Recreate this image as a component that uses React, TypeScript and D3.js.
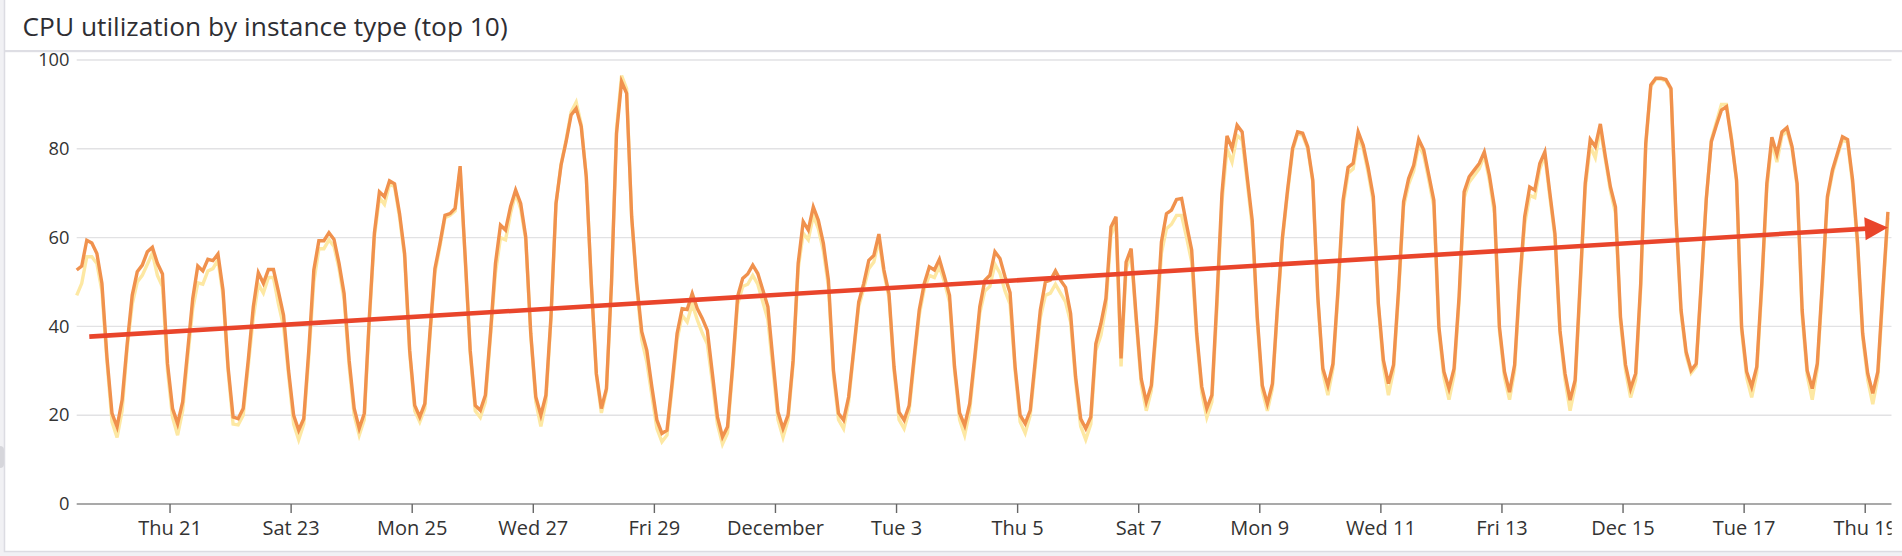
import React, { useEffect, useRef } from "react";
import * as d3 from "d3";

// series sampled every 2 hours, starting Tue Nov 19 2019 11:00
const startTime = new Date(2019, 10, 19, 11, 0);
const endTime = new Date(2019, 11, 19, 10, 30);
const stepHours = 2;

// top instance type (orange line)
const cpuTop = [
  52.7, 53.6, 59.4, 58.8, 56.4, 49.7, 33, 20.4, 17.4, 23.4, 36, 47,
  52.3, 53.8, 56.8, 57.8, 54.2, 51.8, 31.6, 21.5, 18.1, 23, 34.6, 46.3,
  53.6, 52.5, 55.1, 54.8, 56.3, 48.2, 30.9, 19.6, 19.2, 21.5, 32.4, 44.4,
  52.1, 49.7, 52.8, 52.8, 47.8, 42.5, 30, 20, 16.6, 19.2, 34.6, 52.7,
  59.3, 59.3, 61.1, 59.6, 54.2, 47.4, 32.4, 21.5, 17, 20.4, 42, 61,
  70.3, 69.2, 72.8, 72.1, 65.4, 56.4, 34.6, 22.2, 19.6, 22.6, 38.4, 53,
  58.7, 65, 65.4, 66.6, 76.1, 55.7, 34.6, 22.2, 21.1, 24.5, 38.4, 54.2,
  62.8, 61.7, 67, 70.7, 67.7, 60.2, 38.4, 24.1, 20, 24.5, 42.1, 67.7,
  76.3, 81.6, 87.6, 89.1, 85, 73.7, 49.7, 29.4, 21.5, 26, 49.7, 83.5,
  95.1, 92.5, 64.7, 49.7, 38.8, 34.6, 26.4, 18.9, 15.9, 16.6, 27.1, 38.4,
  44, 43.8, 47.4, 44, 41.8, 39.1, 29.4, 19.6, 15.1, 17.4, 30.9, 46.7,
  50.8, 51.8, 53.8, 51.9, 48.2, 44.4, 32.4, 20.7, 17, 20, 32.4, 54.2,
  63.6, 61.7, 66.9, 63.9, 58.7, 50.4, 30.1, 20.4, 18.9, 24.1, 34.6, 45.5,
  49.7, 54.9, 56, 60.8, 52.7, 47.4, 30.9, 20.7, 18.9, 22.2, 33.1, 43.7,
  49.7, 53.4, 52.7, 55.1, 51.2, 47, 30.9, 20.5, 17.7, 22.6, 33.1, 44.4,
  50.4, 51.5, 56.8, 55.3, 51.2, 47.6, 30.9, 20, 18.1, 21.1, 32.4, 43.7,
  50, 50.4, 52.5, 50.4, 48.8, 42.9, 28.6, 19.2, 17, 19.6, 36.1, 40.6,
  46.3, 62.4, 64.7, 32.8, 54.5, 57.5, 42.1, 28.2, 23, 26.7, 40.6, 59,
  65.4, 66.2, 68.6, 68.8, 62.8, 57.2, 38.4, 26.4, 21.5, 24.5, 45.9, 69.9,
  82.9, 80.1, 85.3, 83.8, 73.7, 63.9, 42.1, 26.7, 22.6, 27.1, 44.4, 60.2,
  70.7, 80.1, 83.8, 83.5, 80.5, 73, 46.7, 30.5, 26.7, 31.6, 48.2, 68.4,
  75.8, 76.7, 83.8, 80.8, 75.6, 69.2, 45.2, 32.4, 27.1, 31.3, 48.2, 68.1,
  73.3, 76.3, 82.1, 79.7, 74.1, 68.4, 39.9, 29.8, 26, 30.5, 46.7, 70.3,
  73.7, 75.2, 76.7, 79.3, 74.1, 66.9, 39.9, 29.8, 25.2, 31.3, 49.7, 64.7,
  71.4, 70.7, 76.7, 79.3, 70, 60.9, 39.1, 29.4, 23.4, 27.9, 49.7, 72.2,
  82.1, 80.5, 85.6, 78.2, 71.4, 66.9, 42.1, 31.3, 26, 29.4, 49.7, 81.2,
  94.4, 95.9, 95.9, 95.6, 93.6, 64.7, 43.7, 34.3, 30.1, 31.6, 49.7, 68.8,
  81.6, 85.3, 88.7, 89.5, 82, 73, 39.9, 29.8, 26.4, 30.9, 49.7, 72.2,
  82.6, 78.8, 83.8, 84.8, 80.5, 72.2, 43.7, 30.1, 26, 31.6, 49.7, 69.2,
  75.2, 79, 82.7, 82.1, 73, 58.7, 38.4, 29.4, 24.9, 29.8, 48.2, 65.8,
];

// second instance type (pale yellow line, mostly hidden behind the first)
const cpuSecond = [
  47, 49.7, 55.7, 55.7, 54.2, 48, 32, 18.5, 15, 21, 35, 45,
  50, 51.5, 54, 56.5, 51.5, 49, 30, 19.5, 15.5, 21, 33, 44,
  49.8, 49.5, 52.5, 53, 55, 47, 30, 18, 17.8, 20, 31, 42,
  49.5, 47.5, 51, 51, 45, 40, 29, 18, 14.5, 18, 33, 50,
  57.5, 57.5, 59.5, 58, 53, 46, 31, 20, 15.5, 19, 41, 60,
  69, 67.5, 72, 71.5, 64.5, 55.5, 34, 21, 18.5, 21.5, 37.5, 52,
  58, 64.5, 65, 66, 75.5, 55, 34, 21, 19.5, 23, 37.5, 52,
  60, 59.5, 65.5, 70, 66.5, 59.5, 38, 23, 17.5, 23, 41.5, 67.5,
  76.5, 82, 88.3, 90.5, 85.5, 74, 49.5, 29, 20.5, 25.5, 49.5, 84.5,
  96.5, 93.5, 64.5, 49, 37, 32, 24.5, 17, 14, 15.5, 26, 37,
  42.5, 41, 45, 41.5, 38.5, 36, 27.5, 18, 13.5, 16, 30, 45,
  49, 49.5, 51.5, 49.5, 45.5, 41.5, 30.5, 19, 15, 19, 31.5, 53,
  61, 59.5, 65, 62, 57, 49, 29, 19, 17, 23, 34, 44.5,
  48.5, 53, 54.5, 59.5, 52, 46.5, 30, 19, 17, 21, 32, 42.5,
  48.5, 51.5, 51, 53.5, 50, 45.5, 30, 19, 15.5, 21, 32, 43,
  48, 49, 54, 52, 48, 45, 30, 18.5, 16, 20, 31, 42,
  47, 47.5, 49.5, 47.5, 45.5, 41, 27.5, 17.5, 14.5, 18, 34.5, 38,
  44.5, 60.5, 63.5, 31, 53, 56.5, 41, 27, 21, 25.5, 39, 56.5,
  62, 63, 65, 65, 60, 54.5, 37.5, 25, 19.5, 23, 44, 68,
  80, 77, 83, 82, 72.5, 62.5, 41, 25.5, 21, 26, 43.5, 59.5,
  70, 79.5, 83.5, 83, 80, 72.5, 46, 29.5, 24.5, 30.5, 47, 67,
  74.5, 75.5, 82.5, 80, 74.5, 68, 44.5, 31, 24.5, 30, 47, 67,
  72, 75, 81, 78.5, 73, 67, 39, 28.5, 23.5, 29, 45.5, 69,
  72.5, 74, 75.5, 78.5, 73, 65.5, 39, 28.5, 23.5, 30, 48.5, 63,
  69.5, 69, 75.5, 78.5, 69, 60, 38.5, 28, 21, 26.5, 48.5, 71,
  80.5, 78, 84.5, 77.5, 70.5, 65.5, 41, 30, 24, 28, 48.5, 80.5,
  94, 95.7, 95.7, 95.3, 93.3, 64, 43, 33.5, 29.5, 31, 49, 68.5,
  82, 86, 90, 90, 82.5, 72.5, 39, 28.5, 24, 29.5, 48.5, 71,
  81.5, 77, 83, 84, 80, 71.5, 42.5, 29, 23.5, 30.5, 48.5, 68.5,
  74.5, 78.5, 82, 81.5, 72, 57.5, 37.5, 28, 22.5, 28.5, 47, 64.5,
];

const yTicks = [0, 20, 40, 60, 80, 100];
const tickDays = [
  "2019-11-21", "2019-11-23", "2019-11-25", "2019-11-27", "2019-11-29",
  "2019-12-01", "2019-12-03", "2019-12-05", "2019-12-07", "2019-12-09",
  "2019-12-11", "2019-12-13", "2019-12-15", "2019-12-17", "2019-12-19",
];
const tickLabels = [
  "Thu 21", "Sat 23", "Mon 25", "Wed 27", "Fri 29", "December", "Tue 3",
  "Thu 5", "Sat 7", "Mon 9", "Wed 11", "Fri 13", "Dec 15", "Tue 17", "Thu 19",
];

// trend arrow annotation: hours after start, value
const trendHours = [5, 718];
const trendValues = [37.7, 62.3];

const title = "CPU utilization by instance type (top 10)";

const W = 1902;
const H = 556;

const App = () => {
  const svgRef = useRef<SVGSVGElement>(null);

  useEffect(() => {
    const svg = d3.select(svgRef.current);
    svg.selectAll("*").remove();

    const left = 76.7;
    const right = 1891.7;
    const top = 60;
    const bottom = 504;
    const font = "'Open Sans', 'Noto Sans', sans-serif";
    const hour = 3600 * 1000;
    const timeOf = (h: number) => new Date(startTime.getTime() + h * hour);
    const parseDay = d3.timeParse("%Y-%m-%d");

    const x = d3.scaleTime().domain([startTime, endTime]).range([left, right]);
    const y = d3.scaleLinear().domain([0, 100]).range([bottom, top]);

    // page background and panel
    svg.append("rect").attr("width", W).attr("height", H).attr("fill", "#f1f1f4");
    svg.append("rect")
      .attr("x", 4.5).attr("y", -10)
      .attr("width", W + 20).attr("height", 561.5)
      .attr("fill", "#fff")
      .attr("stroke", "#dcdce2")
      .attr("stroke-width", 1.5);
    // small resize handle on the left edge
    svg.append("rect")
      .attr("x", -4).attr("y", 446)
      .attr("width", 8).attr("height", 22)
      .attr("rx", 4)
      .attr("fill", "#d6d6db");

    svg.append("text")
      .attr("x", 22.5)
      .attr("y", 35.5)
      .style("font-family", font)
      .style("font-size", "26.3px")
      .style("fill", "#2e2e33")
      .text(title);

    svg.append("rect")
      .attr("x", 5).attr("y", 50)
      .attr("width", W).attr("height", 2.2)
      .attr("fill", "#dedee4");

    svg.append("clipPath").attr("id", "plotclip")
      .append("rect").attr("x", 0).attr("y", 52).attr("width", right).attr("height", H);

    const g = svg.append("g").attr("clip-path", "url(#plotclip)");

    // y grid and labels
    yTicks.forEach((t) => {
      g.append("line")
        .attr("x1", left).attr("x2", right)
        .attr("y1", y(t)).attr("y2", y(t))
        .attr("stroke", t === 0 ? "#8c8c8c" : "#e2e2e4")
        .attr("stroke-width", 1.4);
      g.append("text")
        .attr("x", 69.5)
        .attr("y", y(t))
        .attr("dy", "0.34em")
        .attr("text-anchor", "end")
        .style("font-family", font)
        .style("font-size", "18.3px")
        .style("fill", "#333")
        .text(t);
    });

    // x ticks and labels
    tickDays.forEach((d, i) => {
      const px = x(parseDay(d) as Date);
      g.append("line")
        .attr("x1", px).attr("x2", px)
        .attr("y1", bottom).attr("y2", bottom + 9)
        .attr("stroke", "#666")
        .attr("stroke-width", 1.4);
      g.append("text")
        .attr("x", px)
        .attr("y", 534.5)
        .attr("text-anchor", "middle")
        .style("font-family", font)
        .style("font-size", "20px")
        .style("fill", "#333")
        .text(tickLabels[i]);
    });

    const line = d3.line<number>()
      .x((_, i) => x(timeOf(i * stepHours)))
      .y((d) => y(d));

    g.append("path")
      .datum(cpuSecond)
      .attr("d", line)
      .attr("fill", "none")
      .attr("stroke", "#fde8a3")
      .attr("stroke-width", 3.4);

    g.append("path")
      .datum(cpuTop)
      .attr("d", line)
      .attr("fill", "none")
      .attr("stroke", "#f0914d")
      .attr("stroke-width", 3.4);

    // trend arrow
    const x0 = x(timeOf(trendHours[0]));
    const y0 = y(trendValues[0]);
    const x1 = x(timeOf(trendHours[1]));
    const y1 = y(trendValues[1]);
    const len = Math.hypot(x1 - x0, y1 - y0);
    const ux = (x1 - x0) / len;
    const uy = (y1 - y0) / len;
    const headLen = 23;
    const headHalf = 11.5;
    const bx = x1 - ux * headLen;
    const by = y1 - uy * headLen;
    const arrowColor = "#e9452b";

    svg.append("line")
      .attr("x1", x0).attr("y1", y0)
      .attr("x2", bx + ux * 2).attr("y2", by + uy * 2)
      .attr("stroke", arrowColor)
      .attr("stroke-width", 4.6);
    svg.append("path")
      .attr("d", `M${x1},${y1} L${bx - uy * headHalf},${by + ux * headHalf} L${bx + uy * headHalf},${by - ux * headHalf} Z`)
      .attr("fill", arrowColor);
  }, []);

  return (
    <svg
      ref={svgRef}
      width={W}
      height={H}
      style={{ position: "absolute", left: 0, top: 0, display: "block" }}
    />
  );
};

export default App;
